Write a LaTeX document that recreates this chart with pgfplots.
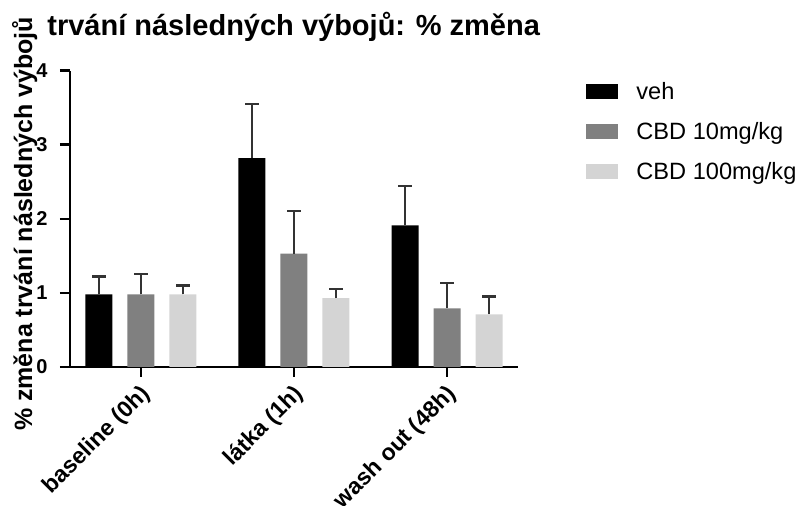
\documentclass[border=0pt]{standalone}
\usepackage{fontspec}
\setmainfont{Liberation Sans}
\usepackage{pgfplots}
\pgfplotsset{compat=1.18}

\definecolor{cveh}{HTML}{000000}
\definecolor{cten}{HTML}{808080}
\definecolor{chun}{HTML}{D4D4D4}
\definecolor{cerr}{HTML}{333333}

\begin{document}
\begin{tikzpicture}
\useasboundingbox (0,0) rectangle (400pt,253pt);

\begin{axis}[
  at={(35pt,69.5pt)}, anchor=south west,
  scale only axis, width=224pt, height=148.2pt,
  xmin=-0.464, xmax=2.464, ymin=0, ymax=4,
  axis x line*=bottom, axis y line*=left,
  axis line style={line width=1.2pt, -},
  xtick={0,1,2},
  xticklabels={baseline (0h), látka (1h), wash out (48h)},
  ytick={0,1,2,3,4},
  xtick align=outside, ytick align=outside,
  major tick length=5pt,
  tick style={line width=1.2pt, black},
  /pgf/number format/assume math mode=true,
  yticklabel style={font=\fontsize{10}{12}\selectfont\bfseries, inner sep=1pt, anchor=east, xshift=-5pt},
  xticklabel style={font=\fontsize{11.5}{14}\selectfont\bfseries, xshift=-1pt, yshift=-1.5pt, rotate=45, anchor=north east, inner sep=1pt},
  ybar, bar width=13.5pt,
  legend cell align=left,
  legend style={draw=none, fill=none, inner sep=0pt, at={(1.1518,0.9655)}, anchor=north west,
    font=\fontsize{11.8}{14}\selectfont, row sep=8pt,
    nodes={inner sep=0pt, text height=9pt, text depth=3pt}},
  error bars/y dir=plus, error bars/y explicit,
  error bars/error bar style={line width=0.8pt, cerr},
  error bars/error mark options={line width=1.1pt, cerr, mark size=3.4pt, rotate=90},
]
% vehicle
\addplot[fill=cveh, draw=none, bar shift=-21pt,
  legend image code/.code={\fill[cveh] (0pt,-3pt) rectangle (16pt,4.5pt); \path[draw=none, fill=none] (0pt,0pt) -- (25pt,0pt);}]
  coordinates {(0,0.98) +- (0,0.24) (1,2.82) +- (0,0.73) (2,1.91) +- (0,0.53)};
\addlegendentry{veh}
% CBD 10 mg/kg
\addplot[fill=cten, draw=none, bar shift=0pt,
  legend image code/.code={\fill[cten] (0pt,-3pt) rectangle (16pt,4.5pt); \path[draw=none, fill=none] (0pt,0pt) -- (25pt,0pt);}]
  coordinates {(0,0.98) +- (0,0.27) (1,1.53) +- (0,0.57) (2,0.79) +- (0,0.34)};
\addlegendentry{CBD 10mg/kg}
% CBD 100 mg/kg
\addplot[fill=chun, draw=none, bar shift=21pt,
  legend image code/.code={\fill[chun] (0pt,-3pt) rectangle (16pt,4.5pt); \path[draw=none, fill=none] (0pt,0pt) -- (25pt,0pt);}]
  coordinates {(0,0.98) +- (0,0.12) (1,0.93) +- (0,0.12) (2,0.71) +- (0,0.24)};
\addlegendentry{CBD 100mg/kg}
\end{axis}

\node[anchor=base west, inner sep=0pt, font=\fontsize{14.5}{17}\selectfont\bfseries]
  at (23.5pt,235.2pt) {trvání následných výbojů: \% změna};
\node[rotate=90, anchor=base, inner sep=0pt, font=\fontsize{12.5}{15}\selectfont\bfseries]
  at (16pt,141pt) {\% změna trvání následných výbojů};
\end{tikzpicture}
\end{document}
